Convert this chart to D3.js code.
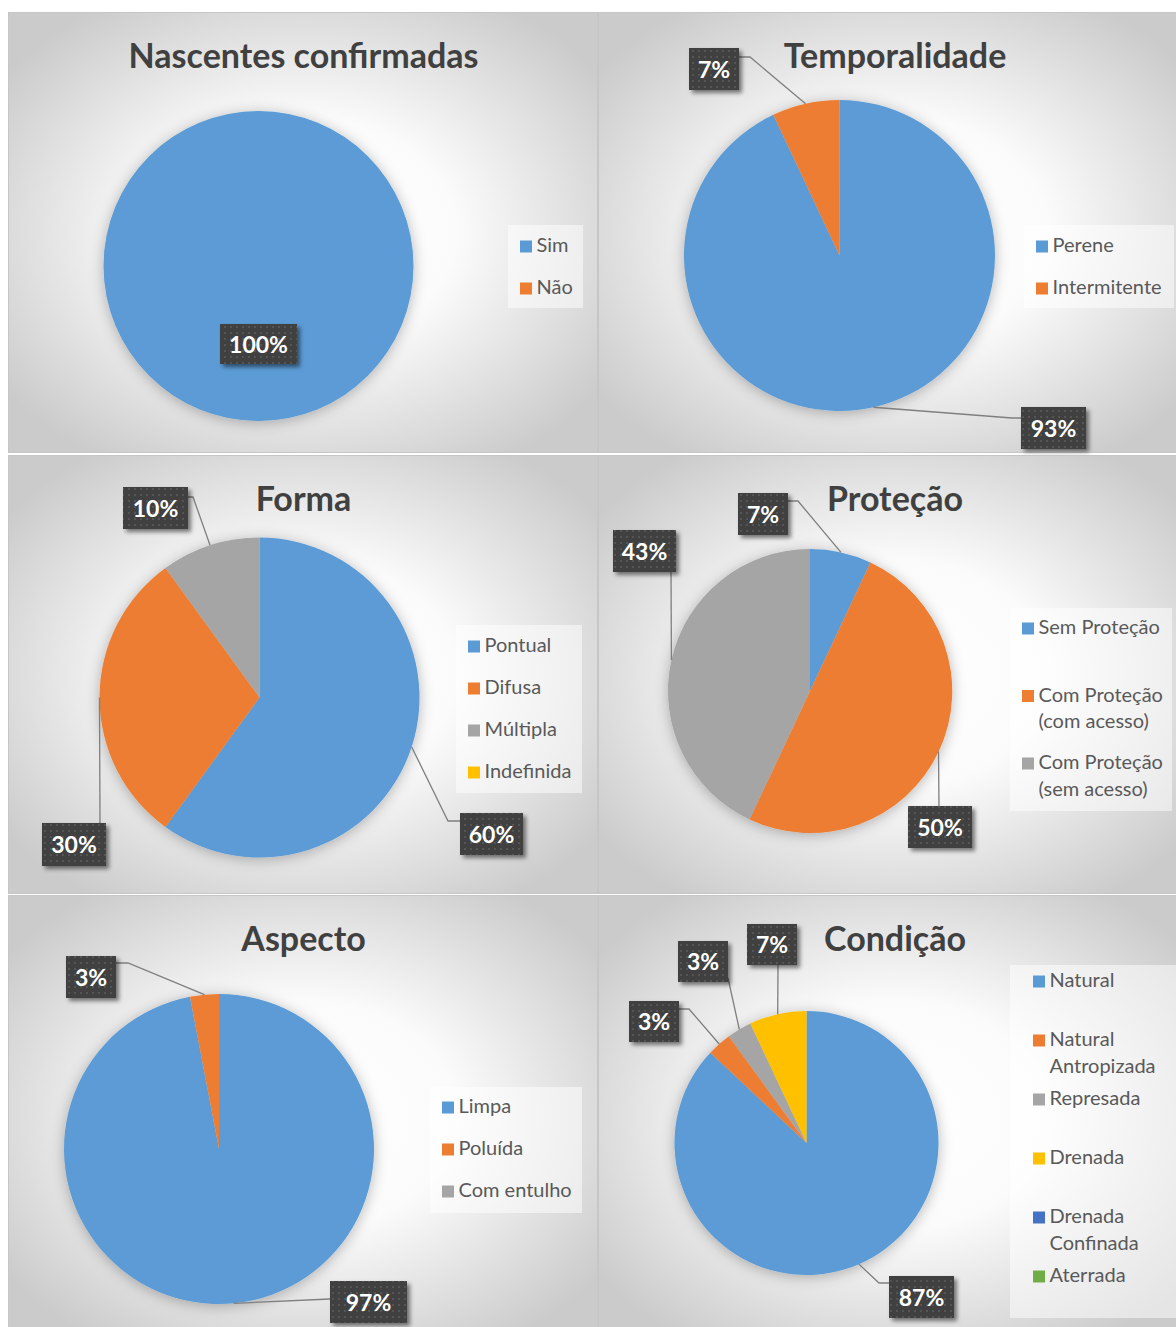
<!DOCTYPE html>
<html>
<head>
<meta charset="utf-8">
<script src="https://cdn.jsdelivr.net/npm/d3@7"></script>
<style>
  html, body { margin: 0; padding: 0; background: #ffffff; }
  svg { display: block; }
</style>
</head>
<body>
<svg id="chart" width="1176" height="1327"></svg>
<script>
// ---- Survey results (percent of springs) ----
const nascentesCategories = ["Sim", "Não"];
const nascentesValues = [100, 0];

const temporalidadeCategories = ["Perene", "Intermitente"];
const temporalidadeValues = [93, 7];

const formaCategories = ["Pontual", "Difusa", "Múltipla", "Indefinida"];
const formaValues = [60, 30, 10, 0];

const protecaoCategories = ["Sem Proteção", "Com Proteção (com acesso)", "Com Proteção (sem acesso)"];
const protecaoValues = [7, 50, 43];

const aspectoCategories = ["Limpa", "Poluída", "Com entulho"];
const aspectoValues = [97, 3, 0];

const condicaoCategories = ["Natural", "Natural Antropizada", "Represada", "Drenada", "Drenada Confinada", "Aterrada"];
const condicaoValues = [87, 3, 3, 7, 0, 0];

const palette = ["#5B9BD5", "#ED7D31", "#A5A5A5", "#FFC000", "#4472C4", "#70AD47"];

// ---- Layout of the six panels (page coordinates) ----
const panels = [
  {
    title: "Nascentes confirmadas", categories: nascentesCategories, values: nascentesValues,
    frame: [8, 12, 589, 440], pie: { cx: 258.5, cy: 266, r: 155 },
    legend: { box: [508, 225, 75, 83], x: 520, y: 252, step: 42 },
    labels: [{ box: [220, 324, 77, 40], pts: [] }, null]
  },
  {
    title: "Temporalidade", categories: temporalidadeCategories, values: temporalidadeValues,
    frame: [598, 12, 592, 440], pie: { cx: 839.5, cy: 255.5, r: 155.5 },
    legend: { box: [1024, 225, 150, 83], x: 1036, y: 252, step: 42 },
    labels: [
      { box: [1021, 407, 65, 42], pts: [[1012, 418], [1021, 418]] },
      { box: [689, 48, 50, 42], pts: [[750, 57], [739, 57]] }
    ]
  },
  {
    title: "Forma", categories: formaCategories, values: formaValues,
    frame: [8, 455, 589, 438], pie: { cx: 259.5, cy: 697.5, r: 160 },
    legend: { box: [456, 625, 126, 168], x: 468, y: 652, step: 42 },
    labels: [
      { box: [460, 813, 63, 42], pts: [[448, 821], [460, 821]] },
      { box: [42, 823, 64, 43], pts: [[100, 823]] },
      { box: [123, 487, 65, 42], pts: [[193, 497], [188, 497]] },
      null
    ]
  },
  {
    title: "Proteção", categories: protecaoCategories, values: protecaoValues,
    frame: [598, 455, 592, 438], pie: { cx: 810, cy: 691, r: 142 },
    legend: { box: [1010, 608, 162, 203], x: 1022, y: 634, step: 67.5 },
    labels: [
      { box: [738, 493, 50, 42], pts: [[798, 501], [788, 501]] },
      { box: [908, 806, 64, 42], pts: [[939, 806]] },
      { box: [613, 530, 63, 42], pts: [[671, 572]] }
    ]
  },
  {
    title: "Aspecto", categories: aspectoCategories, values: aspectoValues,
    frame: [8, 895, 589, 440], pie: { cx: 219, cy: 1149, r: 155 },
    legend: { box: [430, 1087, 152, 126], x: 442, y: 1113, step: 42 },
    labels: [
      { box: [330, 1281, 77, 42], pts: [[330, 1299]] },
      { box: [66, 956, 50, 42], pts: [[128, 963], [116, 963]] },
      null
    ]
  },
  {
    title: "Condição", categories: condicaoCategories, values: condicaoValues,
    frame: [598, 895, 592, 440], pie: { cx: 806.5, cy: 1143, r: 132 },
    legend: { box: [1010, 965, 170, 353], x: 1033, y: 987, step: 59 },
    labels: [
      { box: [889, 1276, 65, 42], pts: [[879, 1283], [889, 1283]] },
      { box: [629, 1001, 50, 41], pts: [[689, 1009], [679, 1009]] },
      { box: [678, 941, 50, 41], pts: [[728, 978]] },
      { box: [747, 924, 50, 41], pts: [[778, 965]] },
      null, null
    ]
  }
];

const svg = d3.select("#chart");
const defs = svg.append("defs");

// panel background: soft radial light
const grad = defs.append("radialGradient").attr("id", "panelBg")
  .attr("cx", "50%").attr("cy", "50%").attr("r", "62%");
grad.append("stop").attr("offset", "0%").attr("stop-color", "#ffffff");
grad.append("stop").attr("offset", "42%").attr("stop-color", "#fbfbfb");
grad.append("stop").attr("offset", "100%").attr("stop-color", "#cbcbcb");

// pie halo
const pieShadow = defs.append("filter").attr("id", "pieShadow")
  .attr("x", "-20%").attr("y", "-20%").attr("width", "140%").attr("height", "140%");
pieShadow.append("feDropShadow").attr("dx", 0).attr("dy", 2).attr("stdDeviation", 7)
  .attr("flood-color", "#000").attr("flood-opacity", 0.28);

// data label shadow
const labelShadow = defs.append("filter").attr("id", "labelShadow")
  .attr("x", "-20%").attr("y", "-20%").attr("width", "150%").attr("height", "160%");
labelShadow.append("feDropShadow").attr("dx", 3).attr("dy", 3).attr("stdDeviation", 2.2)
  .attr("flood-color", "#000").attr("flood-opacity", 0.5);

// dotted dark fill for data labels
const dots = defs.append("pattern").attr("id", "dots")
  .attr("width", 6).attr("height", 6).attr("patternUnits", "userSpaceOnUse");
dots.append("rect").attr("width", 6).attr("height", 6).attr("fill", "#404040");
dots.append("circle").attr("cx", 3).attr("cy", 3).attr("r", 0.9).attr("fill", "#5e5e5e");

const pie = d3.pie().sort(null).value(d => d);
const color = d3.scaleOrdinal().range(palette);

// word wrap helper for legend entries
function wrapLines(textSel, str, maxW) {
  const words = str.split(" ");
  const lines = [];
  let cur = "";
  words.forEach(w => {
    const trial = cur ? cur + " " + w : w;
    textSel.text(trial);
    if (cur && textSel.node().getComputedTextLength() > maxW) {
      lines.push(cur);
      cur = w;
    } else {
      cur = trial;
    }
  });
  if (cur) lines.push(cur);
  textSel.text(null);
  return lines;
}

panels.forEach(p => {
  const [fx, fy, fw, fh] = p.frame;
  const g = svg.append("g");

  g.append("rect").attr("x", fx + 0.5).attr("y", fy + 0.5).attr("width", fw).attr("height", fh)
    .attr("fill", "url(#panelBg)").attr("stroke", "#c6c6c6").attr("stroke-width", 1);

  // title
  g.append("text")
    .attr("x", fx + fw / 2 + 1).attr("y", fy + 56)
    .attr("text-anchor", "middle")
    .attr("font-family", "Lato, 'Open Sans', sans-serif").attr("font-weight", 700)
    .attr("font-size", 34).attr("fill", "#404040")
    .text(p.title);

  // pie
  const { cx, cy, r } = p.pie;
  const arcs = pie(p.values);
  const arc = d3.arc().innerRadius(0).outerRadius(r);
  const edge = d3.arc().innerRadius(r).outerRadius(r);
  color.domain(p.categories);

  const pg = g.append("g").attr("transform", `translate(${cx},${cy})`).attr("filter", "url(#pieShadow)");
  pg.selectAll("path").data(arcs.filter(d => d.value > 0)).join("path")
    .attr("d", arc)
    .attr("fill", d => color(p.categories[d.index]));

  // leader lines
  const lg = g.append("g");
  arcs.forEach((d, i) => {
    const lab = p.labels[i];
    if (!lab || d.value <= 0 || !lab.pts.length) return;
    const e = edge.centroid(d);
    const pts = [[cx + e[0], cy + e[1]], ...lab.pts];
    lg.append("path").attr("d", d3.line()(pts))
      .attr("fill", "none").attr("stroke", "#7f7f7f").attr("stroke-width", 1.3);
  });

  // data labels
  arcs.forEach((d, i) => {
    const lab = p.labels[i];
    if (!lab || d.value <= 0) return;
    const [bx, by, bw, bh] = lab.box;
    g.append("rect").attr("x", bx).attr("y", by).attr("width", bw).attr("height", bh)
      .attr("fill", "url(#dots)").attr("filter", "url(#labelShadow)");
    g.append("text")
      .attr("x", bx + bw / 2).attr("y", by + bh / 2 + 8.5)
      .attr("text-anchor", "middle")
      .attr("font-family", "Lato, 'Open Sans', sans-serif").attr("font-weight", 700)
      .attr("font-size", 23).attr("fill", "#ffffff")
      .text(d.value + "%");
  });

  // legend
  const L = p.legend;
  const [lx, ly, lw, lh] = L.box;
  g.append("rect").attr("x", lx).attr("y", ly).attr("width", lw).attr("height", lh)
    .attr("fill", "#ffffff").attr("fill-opacity", 0.5);
  p.categories.forEach((c, i) => {
    const base = L.y + i * L.step;
    g.append("rect").attr("x", L.x).attr("y", base - 11.5).attr("width", 12).attr("height", 12)
      .attr("fill", color(c));
    const t = g.append("text")
      .attr("x", L.x + 16.5).attr("y", base)
      .attr("font-family", "Lato, 'Open Sans', sans-serif")
      .attr("font-size", 20).attr("fill", "#595959");
    const lines = wrapLines(t, c, lx + lw - (L.x + 16.5) - 2);
    lines.forEach((ln, k) => {
      t.append("tspan").attr("x", L.x + 16.5).attr("y", base + k * 26.5).text(ln);
    });
  });
});
</script>
</body>
</html>
